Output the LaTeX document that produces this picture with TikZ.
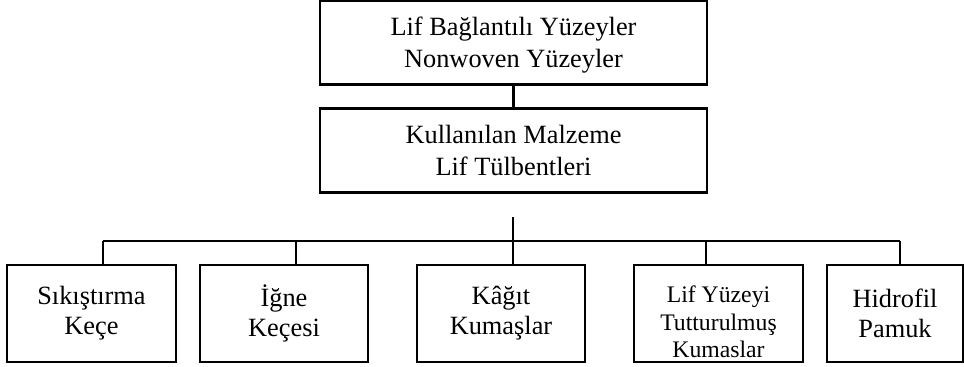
\documentclass[tikz,border=0pt]{standalone}
\usepackage{fontspec}
\setmainfont{Liberation Serif}
\usepackage{tikz}
\usetikzlibrary{positioning}
\tikzset{
  lw/.style={line width=1.3pt},
  orgbox/.style={
    draw,lw,rectangle,align=center,inner sep=2pt,
    font=\fontsize{15}{18.2}\selectfont,
    minimum width=7.74cm,minimum height=1.68cm
  },
  leafbox/.style={
    draw,lw,rectangle,align=center,inner sep=2pt,
    font=\fontsize{15}{17}\selectfont,
    minimum height=1.94cm
  },
  conn/.style={draw,lw},
  smalltxt/.style={font=\fontsize{13.5}{15.8}\selectfont} % lif yuzeyi label
}
\newcommand{\pushdown}[1]{\rule{0pt}{#1}} % ilk satiri asagi iter

\begin{document}
\begin{tikzpicture}[x=0.02cm,y=-0.02cm]
  \useasboundingbox (0,0) rectangle (964,366);

  % Ust kutular
  \node[orgbox] at (513.5,42.5) (lif){\pushdown{13pt}Lif Bağlantılı Yüzeyler\\Nonwoven Yüzeyler};
  \node[orgbox] at (513.5,150.5) (malz){Kullanılan Malzeme\\Lif Tülbentleri};
  \draw[conn] (lif) -- (malz);

  % Alt kutular
  \node[leafbox,minimum width=3.38cm] at (91.5,313.5) (sik){Sıkıştırma\\Keçe};
  \node[leafbox,minimum width=3.36cm] at (284,313.5) (igne){İğne\\Keçesi};
  \node[leafbox,minimum width=3.36cm] at (501,313.5) (kagit){Kâğıt\\Kumaşlar};
  \node[leafbox,minimum width=3.38cm,smalltxt] at (718.5,313.5) (tut){\pushdown{19pt}Lif Yüzeyi\\Tutturulmuş\\Kumaslar};
  \node[leafbox,minimum width=2.72cm] at (895,313.5) (hid){Hidrofil\\Pamuk};

  % Baglanti cizgileri
  \coordinate (stem) at (513,217);
  \coordinate (bus) at (513,241);
  \draw[conn] (stem) -- (bus);
  \coordinate (busL) at (103,241);
  \coordinate (busR) at (900,241);
  \draw[conn] (busL) -- (busR);

  \foreach \n/\x in {sik/103,igne/296,kagit/513,tut/706,hid/900}
  {
    \coordinate (d\n) at (\x,241);
    \draw[conn] (d\n) -- (d\n |- \n.north);
  }
\end{tikzpicture}
\end{document}
